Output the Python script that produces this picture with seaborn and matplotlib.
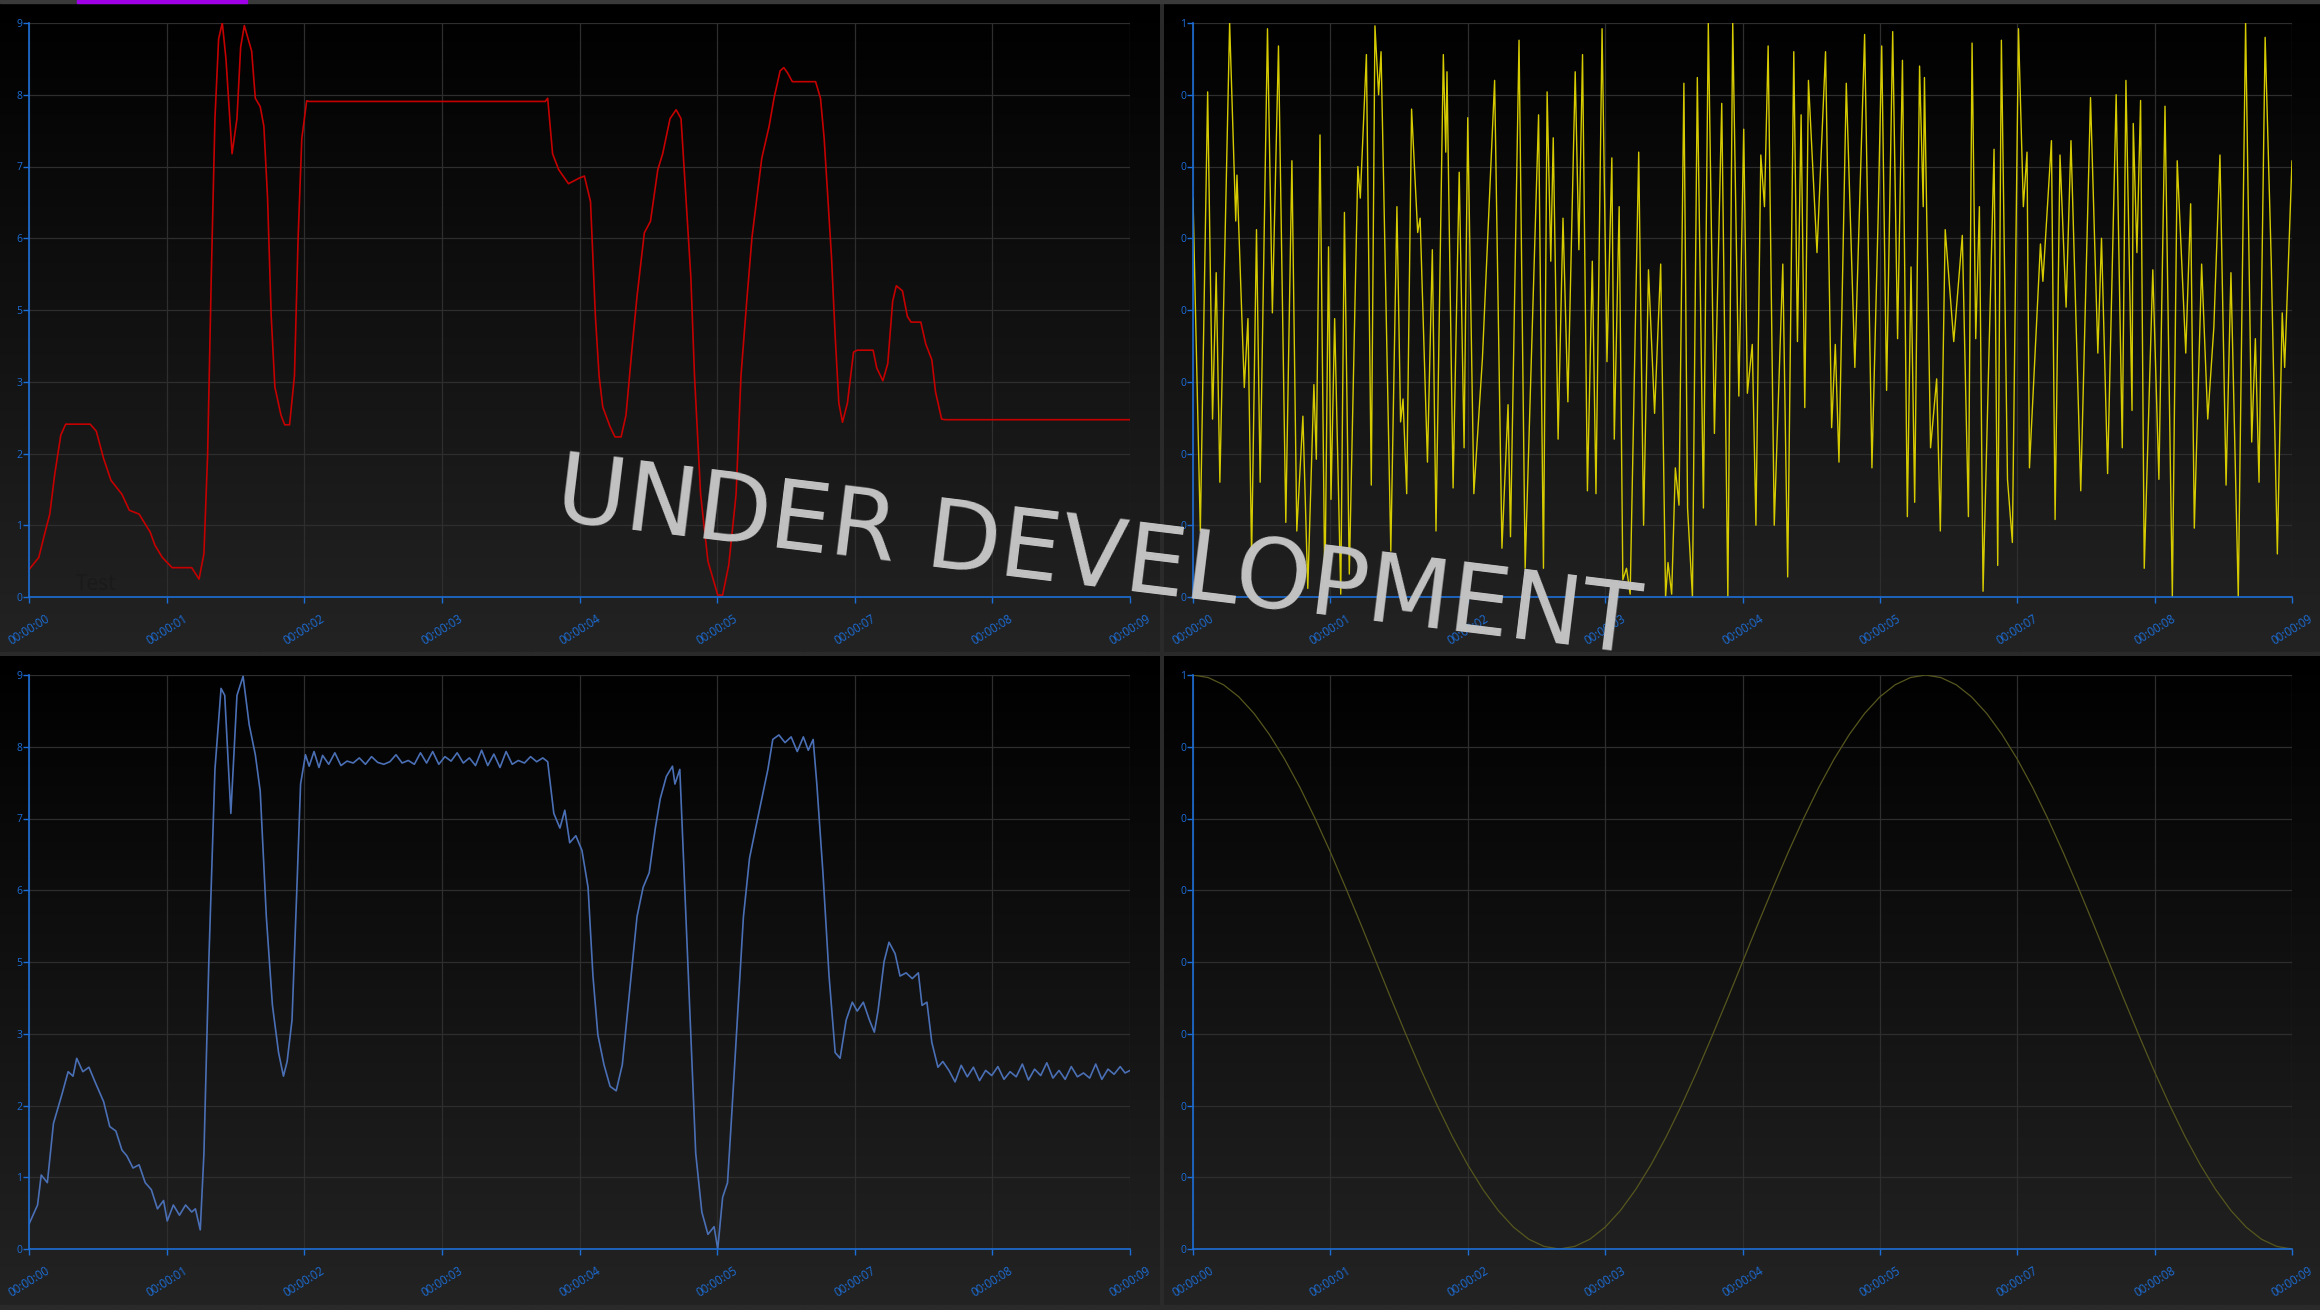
import numpy as np
import matplotlib
matplotlib.use("Agg")
import matplotlib.pyplot as plt
from matplotlib.colors import LinearSegmentedColormap
from matplotlib.patches import Rectangle
import seaborn as sns

# ---- data (seconds / value) ----
x_tick_labels = ['00:00:00', '00:00:01', '00:00:02', '00:00:03', '00:00:04',
                 '00:00:05', '00:00:07', '00:00:08', '00:00:09']
left_y_labels = ['0', '1', '2', '3', '5', '6', '7', '8', '9']
right_y_labels = ['0', '0', '0', '0', '0', '0', '0', '0', '1']

red_x = [0.00, 0.08, 0.12, 0.17, 0.21, 0.26, 0.30, 0.50, 0.55, 0.61,
         0.67, 0.76, 0.82, 0.90, 0.99, 1.03, 1.09, 1.17, 1.33, 1.39,
         1.43, 1.46, 1.49, 1.52, 1.55, 1.58, 1.61, 1.66, 1.70, 1.73,
         1.76, 1.82, 1.85, 1.89, 1.92, 1.95, 1.98, 2.01, 2.06, 2.09,
         2.13, 2.17, 2.20, 2.23, 2.27, 2.29, 4.22, 4.24, 4.28, 4.33,
         4.41, 4.50, 4.54, 4.59, 4.63, 4.66, 4.69, 4.75, 4.79, 4.84,
         4.88, 4.93, 4.97, 5.03, 5.08, 5.14, 5.18, 5.24, 5.29, 5.33,
         5.37, 5.41, 5.44, 5.49, 5.55, 5.63, 5.67, 5.72, 5.78, 5.82,
         5.87, 5.91, 5.99, 6.05, 6.09, 6.14, 6.17, 6.20, 6.24, 6.43,
         6.47, 6.50, 6.53, 6.56, 6.59, 6.62, 6.65, 6.69, 6.74, 6.77,
         6.90, 6.93, 6.98, 7.02, 7.06, 7.09, 7.14, 7.18, 7.21, 7.29,
         7.33, 7.38, 7.41, 7.46, 7.49, 9.00]
red_y = [0.43, 0.62, 0.93, 1.30, 1.92, 2.54, 2.71, 2.71, 2.60, 2.17,
         1.83, 1.61, 1.36, 1.30, 1.02, 0.81, 0.62, 0.46, 0.46, 0.28,
         0.68, 2.23, 5.02, 7.50, 8.75, 9.00, 8.44, 6.95, 7.50, 8.62,
         8.96, 8.56, 7.82, 7.69, 7.38, 6.26, 4.40, 3.29, 2.85, 2.70,
         2.70, 3.47, 5.64, 7.19, 7.78, 7.77, 7.77, 7.82, 6.95, 6.70,
         6.48, 6.57, 6.60, 6.20, 4.40, 3.47, 2.98, 2.67, 2.51, 2.51,
         2.85, 3.91, 4.71, 5.71, 5.89, 6.70, 6.95, 7.50, 7.64, 7.50,
         6.26, 5.02, 3.47, 1.61, 0.56, 0.03, 0.03, 0.50, 1.61, 3.47,
         4.71, 5.64, 6.88, 7.38, 7.82, 8.25, 8.30, 8.22, 8.08, 8.08,
         7.82, 7.19, 6.26, 5.33, 4.09, 3.04, 2.74, 3.04, 3.84, 3.87,
         3.87, 3.59, 3.39, 3.66, 4.64, 4.88, 4.80, 4.40, 4.31, 4.31,
         3.97, 3.72, 3.22, 2.79, 2.78, 2.78]

yellow_x = [0.00, 0.06, 0.12, 0.16, 0.19, 0.22, 0.30, 0.35, 0.36, 0.42,
            0.45, 0.48, 0.52, 0.55, 0.61, 0.65, 0.70, 0.76, 0.81, 0.85,
            0.90, 0.94, 0.99, 1.01, 1.04, 1.08, 1.11, 1.13, 1.16, 1.21,
            1.24, 1.28, 1.35, 1.37, 1.42, 1.46, 1.49, 1.52, 1.54, 1.62,
            1.67, 1.70, 1.72, 1.75, 1.79, 1.84, 1.86, 1.92, 1.96, 1.99,
            2.05, 2.07, 2.08, 2.13, 2.18, 2.22, 2.25, 2.30, 2.37, 2.47,
            2.53, 2.58, 2.60, 2.67, 2.72, 2.83, 2.87, 2.90, 2.93, 2.95,
            2.99, 3.03, 3.07, 3.13, 3.16, 3.19, 3.23, 3.27, 3.30, 3.35,
            3.39, 3.43, 3.45, 3.49, 3.52, 3.55, 3.58, 3.65, 3.69, 3.73,
            3.78, 3.83, 3.87, 3.89, 3.92, 3.95, 3.98, 4.02, 4.05, 4.09,
            4.13, 4.18, 4.22, 4.27, 4.33, 4.38, 4.42, 4.47, 4.51, 4.54,
            4.58, 4.61, 4.65, 4.68, 4.71, 4.76, 4.83, 4.87, 4.92, 4.95,
            4.98, 5.01, 5.04, 5.11, 5.18, 5.23, 5.26, 5.29, 5.35, 5.42,
            5.50, 5.56, 5.61, 5.64, 5.68, 5.73, 5.77, 5.81, 5.85, 5.88,
            5.91, 5.95, 5.98, 5.99, 6.04, 6.09, 6.12, 6.16, 6.23, 6.30,
            6.35, 6.38, 6.41, 6.44, 6.47, 6.56, 6.59, 6.62, 6.67, 6.71,
            6.76, 6.80, 6.83, 6.85, 6.94, 6.96, 7.03, 7.06, 7.10, 7.15,
            7.19, 7.27, 7.35, 7.41, 7.44, 7.49, 7.56, 7.61, 7.64, 7.69,
            7.70, 7.73, 7.76, 7.79, 7.86, 7.91, 7.96, 8.02, 8.06, 8.13,
            8.17, 8.20, 8.26, 8.31, 8.36, 8.41, 8.46, 8.50, 8.53, 8.56,
            8.62, 8.67, 8.70, 8.73, 8.78, 8.83, 8.88, 8.92, 8.94, 9.00]
yellow_y = [0.39, -0.77, 0.76, -0.38, 0.13, -0.60, 1.00, 0.31, 0.47, -0.27,
            -0.03, -0.86, 0.28, -0.60, 0.98, -0.01, 0.92, -0.74, 0.52, -0.77,
            -0.37, -0.97, -0.26, -0.52, 0.61, -0.99, 0.22, -0.66, -0.03, -0.99,
            0.34, -0.92, 0.50, 0.39, 0.89, -0.61, 0.99, 0.75, 0.90, -0.84,
            0.36, -0.39, -0.31, -0.64, 0.70, 0.27, 0.32, -0.53, 0.21, -0.77,
            0.89, 0.55, 0.83, -0.62, 0.48, -0.48, 0.67, -0.64, -0.17, 0.80,
            -0.83, -0.33, -0.79, 0.94, -0.90, 0.68, -0.90, 0.76, 0.17, 0.60,
            -0.45, 0.32, -0.32, 0.83, 0.21, 0.89, -0.63, 0.17, -0.64, 0.98,
            -0.18, 0.53, -0.45, 0.36, -0.94, -0.90, -0.99, 0.55, -0.75, 0.14,
            -0.36, 0.16, -1.00, -0.88, -0.99, -0.55, -0.68, 0.79, -0.69, -1.00,
            0.81, -0.69, 1.00, -0.43, 0.72, -1.00, 1.00, -0.30, 0.63, -0.29,
            -0.12, -0.75, 0.54, 0.36, 0.92, -0.75, 0.16, -0.93, 0.90, -0.11,
            0.68, -0.34, 0.80, 0.20, 0.90, -0.41, -0.12, -0.53, 0.79, -0.20,
            0.96, -0.55, 0.31, 0.92, -0.28, 0.97, -0.10, 0.87, -0.72, 0.15,
            -0.67, 0.85, 0.36, 0.81, -0.48, -0.24, -0.77, 0.28, -0.11, 0.26,
            -0.72, 0.93, -0.10, 0.36, -0.98, 0.56, -0.89, 0.94, -0.59, -0.81,
            0.98, 0.36, 0.55, -0.55, 0.23, 0.10, 0.59, -0.73, 0.54, 0.01,
            0.59, -0.63, 0.74, -0.15, 0.25, -0.57, 0.75, -0.48, 0.80, -0.35,
            0.65, 0.20, 0.73, -0.90, 0.14, -0.59, 0.71, -1.00, 0.52, -0.15,
            0.37, -0.76, 0.16, -0.38, -0.06, 0.54, -0.61, 0.13, -0.43, -1.00,
            1.00, -0.46, -0.10, -0.60, 0.95, 0.17, -0.85, -0.01, -0.20, 0.52]

blue_x = [0.00, 0.07, 0.10, 0.15, 0.20, 0.27, 0.32, 0.36, 0.39, 0.44,
          0.49, 0.54, 0.61, 0.66, 0.71, 0.76, 0.80, 0.85, 0.90, 0.95,
          1.00, 1.05, 1.10, 1.13, 1.18, 1.23, 1.28, 1.33, 1.36, 1.40,
          1.43, 1.47, 1.52, 1.57, 1.60, 1.65, 1.70, 1.75, 1.80, 1.85,
          1.89, 1.94, 1.99, 2.04, 2.08, 2.11, 2.15, 2.19, 2.22, 2.26,
          2.29, 2.33, 2.37, 2.40, 2.45, 2.50, 2.55, 2.60, 2.65, 2.70,
          2.75, 2.80, 2.85, 2.90, 2.95, 3.00, 3.05, 3.10, 3.15, 3.20,
          3.25, 3.30, 3.35, 3.40, 3.45, 3.50, 3.55, 3.60, 3.65, 3.70,
          3.75, 3.80, 3.85, 3.90, 3.95, 4.00, 4.05, 4.10, 4.15, 4.20,
          4.24, 4.29, 4.34, 4.38, 4.42, 4.47, 4.52, 4.57, 4.61, 4.65,
          4.70, 4.75, 4.80, 4.85, 4.91, 4.97, 5.02, 5.07, 5.12, 5.16,
          5.21, 5.26, 5.28, 5.32, 5.36, 5.41, 5.45, 5.50, 5.55, 5.60,
          5.63, 5.67, 5.71, 5.74, 5.79, 5.84, 5.89, 5.94, 5.99, 6.04,
          6.08, 6.13, 6.18, 6.23, 6.28, 6.33, 6.37, 6.41, 6.44, 6.49,
          6.54, 6.59, 6.63, 6.68, 6.73, 6.77, 6.82, 6.87, 6.91, 6.94,
          6.99, 7.03, 7.08, 7.12, 7.17, 7.22, 7.27, 7.30, 7.34, 7.38,
          7.43, 7.47, 7.52, 7.57, 7.62, 7.67, 7.72, 7.77, 7.82, 7.87,
          7.92, 7.97, 8.02, 8.07, 8.12, 8.17, 8.22, 8.27, 8.32, 8.37,
          8.42, 8.47, 8.52, 8.57, 8.62, 8.67, 8.72, 8.77, 8.82, 8.87,
          8.92, 8.96, 9.00]
blue_y = [0.39, 0.69, 1.16, 1.04, 1.97, 2.43, 2.78, 2.71, 2.99, 2.78,
          2.85, 2.62, 2.31, 1.92, 1.85, 1.55, 1.46, 1.27, 1.32, 1.04,
          0.93, 0.63, 0.76, 0.44, 0.69, 0.53, 0.69, 0.58, 0.63, 0.30,
          1.50, 4.51, 7.52, 8.79, 8.68, 6.83, 8.68, 8.98, 8.22, 7.75,
          7.18, 5.21, 3.82, 3.08, 2.71, 2.94, 3.59, 5.67, 7.29, 7.75,
          7.57, 7.80, 7.55, 7.74, 7.60, 7.78, 7.58, 7.65, 7.62, 7.70,
          7.60, 7.72, 7.63, 7.60, 7.64, 7.75, 7.62, 7.66, 7.60, 7.78,
          7.62, 7.80, 7.60, 7.72, 7.65, 7.78, 7.62, 7.70, 7.58, 7.82,
          7.58, 7.76, 7.55, 7.80, 7.60, 7.66, 7.62, 7.72, 7.64, 7.70,
          7.64, 6.83, 6.60, 6.88, 6.37, 6.48, 6.25, 5.67, 4.28, 3.36,
          2.89, 2.55, 2.48, 2.89, 4.05, 5.21, 5.67, 5.90, 6.60, 7.06,
          7.41, 7.57, 7.29, 7.52, 5.67, 3.36, 1.50, 0.58, 0.23, 0.35,
          0.00, 0.81, 1.04, 1.97, 3.59, 5.21, 6.13, 6.60, 7.06, 7.52,
          7.99, 8.06, 7.94, 8.03, 7.80, 8.03, 7.82, 7.99, 7.29, 5.90,
          4.28, 3.08, 2.99, 3.59, 3.87, 3.73, 3.87, 3.59, 3.40, 3.73,
          4.51, 4.81, 4.63, 4.28, 4.33, 4.24, 4.33, 3.82, 3.87, 3.24,
          2.85, 2.94, 2.80, 2.62, 2.88, 2.70, 2.85, 2.64, 2.80, 2.72,
          2.86, 2.66, 2.78, 2.70, 2.90, 2.65, 2.82, 2.72, 2.92, 2.68,
          2.80, 2.66, 2.86, 2.70, 2.76, 2.68, 2.90, 2.66, 2.82, 2.74,
          2.86, 2.76, 2.80]

# slow wave, sampled every 0.125 s
wave_y = [1.000, 0.991, 0.966, 0.924, 0.866, 0.793, 0.707, 0.609, 0.500, 0.383,
          0.259, 0.131, 0.000, -0.131, -0.259, -0.383, -0.500, -0.609, -0.707, -0.793,
          -0.866, -0.924, -0.966, -0.991, -1.000, -0.991, -0.966, -0.924, -0.866, -0.793,
          -0.707, -0.609, -0.500, -0.383, -0.259, -0.131, 0.000, 0.131, 0.259, 0.383,
          0.500, 0.609, 0.707, 0.793, 0.866, 0.924, 0.966, 0.991, 1.000, 0.991,
          0.966, 0.924, 0.866, 0.793, 0.707, 0.609, 0.500, 0.383, 0.259, 0.131,
          0.000, -0.131, -0.259, -0.383, -0.500, -0.609, -0.707, -0.793, -0.866, -0.924,
          -0.966, -0.991, -1.000]
wave_x = np.linspace(0, 9, len(wave_y))

# ---- style ----
sns.set_theme(style='dark')
plt.rcParams['font.family'] = ['Open Sans', 'DejaVu Sans']

W, H = 2320, 1310
BLUE = '#1c6dd6'
GRID = '#2e2e2e'


def rect(x0, y0, x1, y1):
    # pixel box (top-left origin) -> figure fraction
    return [x0 / W, 1 - y1 / H, (x1 - x0) / W, (y1 - y0) / H]


fig = plt.figure(figsize=(W / 100, H / 100), dpi=100, facecolor='#2a2a2a')

# panel backgrounds with vertical gradient
grad_cmap = LinearSegmentedColormap.from_list('panel', ['#000000', '#232323'])
grad = np.linspace(0, 1, 256).reshape(-1, 1)
for box in [(0, 3, 1160, 652), (1164, 3, 2320, 652),
            (0, 656, 1160, 1305), (1164, 656, 2320, 1305)]:
    bg = fig.add_axes(rect(*box), zorder=0)
    bg.imshow(grad, aspect='auto', cmap=grad_cmap, vmin=0, vmax=1,
              extent=(0, 1, 0, 1), interpolation='bilinear')
    bg.axis('off')

fig.patches.append(Rectangle((0, 1 - 3 / H), 1, 3 / H, transform=fig.transFigure,
                             color='#3a3a3a', zorder=1))
fig.patches.append(Rectangle((77 / W, 1 - 3 / H), 170 / W, 3 / H,
                             transform=fig.transFigure, color='#a000e8', zorder=2))


def make_axis(box, ylim, ylabels):
    ax = fig.add_axes(rect(*box), zorder=2)
    ax.set_facecolor('none')
    ax.set_xlim(0, 9)
    ax.set_ylim(*ylim)
    ax.set_xticks(np.linspace(0, 9, 9))
    ax.set_xticklabels(x_tick_labels)
    ax.set_yticks(np.linspace(ylim[0], ylim[1], 9))
    ax.set_yticklabels(ylabels)
    ax.grid(True, color=GRID, linewidth=0.9)
    ax.set_axisbelow(True)
    for s in ['top', 'right']:
        ax.spines[s].set_visible(False)
    for s in ['left', 'bottom']:
        ax.spines[s].set_color(BLUE)
        ax.spines[s].set_linewidth(1.2)
    ax.tick_params(axis='x', direction='out', length=4, width=1, color=BLUE,
                   labelcolor=BLUE, labelsize=8.3, pad=7, labelrotation=32,
                   bottom=True)
    ax.tick_params(axis='y', direction='out', length=4, width=1, color=BLUE,
                   labelcolor=BLUE, labelsize=7.5, pad=1, left=True)
    return ax


ax_tl = make_axis((29, 23, 1130, 597), (0, 9), left_y_labels)
ax_tr = make_axis((1193, 23, 2292, 597), (-1, 1), right_y_labels)
ax_bl = make_axis((29, 675, 1130, 1249), (0, 9), left_y_labels)
ax_br = make_axis((1193, 675, 2292, 1249), (-1, 1), right_y_labels)

sns.lineplot(x=red_x, y=red_y, ax=ax_tl, color='#c40000', linewidth=1.2, estimator=None)
sns.lineplot(x=yellow_x, y=yellow_y, ax=ax_tr, color='#d6cb00', linewidth=1.0, estimator=None)
sns.lineplot(x=blue_x, y=blue_y, ax=ax_bl, color='#4a6fb5', linewidth=1.2, estimator=None)
sns.lineplot(x=wave_x, y=wave_y, ax=ax_br, color='#56561e', linewidth=0.9, estimator=None)

for ax in [ax_tl, ax_tr, ax_bl, ax_br]:
    ax.set_xlabel('')
    ax.set_ylabel('')

fig.text(76 / W, 1 - 585 / H, 'Test', fontsize=15, color='#1a1a1a',
         ha='left', va='center', zorder=5)
fig.text(1098 / W, 1 - 560 / H, 'UNDER DEVELOPMENT', fontsize=69,
         family=['DejaVu Sans'], color='#c3c3c3', rotation=-7,
         ha='center', va='center', rotation_mode='anchor', zorder=10)

fig.savefig('out.png', dpi=100, facecolor=fig.get_facecolor())
